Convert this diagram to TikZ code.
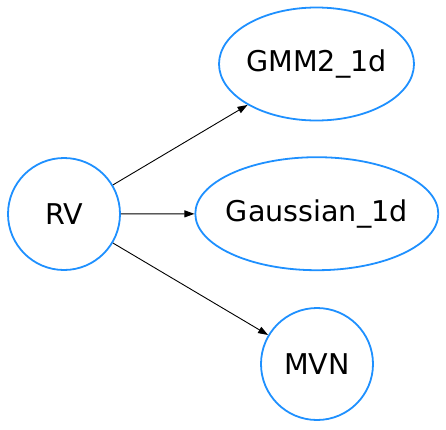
\documentclass[tikz,border=0pt]{standalone}
\usepackage{fontspec}
\setmainfont{DejaVu Sans}
\usetikzlibrary{shapes.geometric,arrows.meta}
\definecolor{nodeblue}{RGB}{30,144,255}
\tikzset{
  gnode/.style={draw=nodeblue, line width=1.8pt, ellipse, inner sep=0pt,
    font=\fontsize{28.6}{32}\selectfont, text=black},
  gedge/.style={draw=black, line width=0.9pt, -{Triangle[length=10pt,width=7pt]}}
}
\newcommand{\zw}[1]{\makebox[0pt]{#1}}
\begin{document}
\begin{tikzpicture}[x=1pt,y=-1pt]
  \useasboundingbox (0,0) rectangle (446,429);
  \node[gnode, minimum width=112pt, minimum height=112pt] (rv) at (64,214) {\zw{RV}};
  \node[gnode, minimum width=195pt, minimum height=113pt] (gmm) at (316.5,64) {\zw{GMM2\_1d}};
  \node[gnode, minimum width=243pt, minimum height=113pt] (gauss) at (316.8,213.7) {\zw{Gaussian\_1d}};
  \node[gnode, minimum width=112pt, minimum height=112pt] (mvn) at (317,364) {\zw{MVN}};
  \draw[gedge] (rv) -- (gmm);
  \draw[gedge] (rv) -- (gauss);
  \draw[gedge] (rv) -- (mvn);
\end{tikzpicture}
\end{document}
